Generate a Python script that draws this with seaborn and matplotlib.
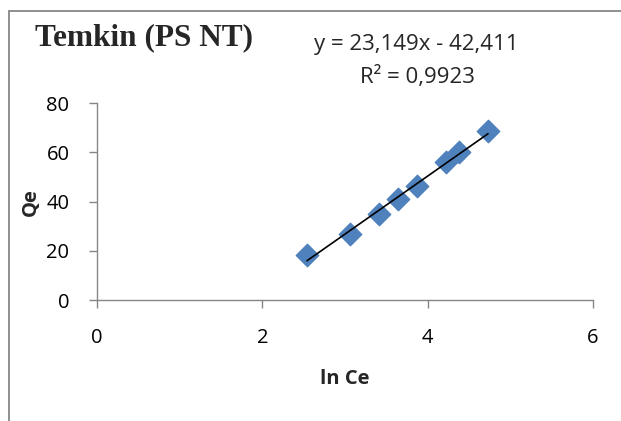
import numpy as np
import pandas as pd
import seaborn as sns
import matplotlib.pyplot as plt
from matplotlib.lines import Line2D

# data
ln_ce = [2.54, 3.06, 3.41, 3.64, 3.87, 4.22, 4.38, 4.73]
qe = [18.5, 26.8, 34.9, 41.2, 46.5, 56.0, 60.0, 68.5]
x_ticks = [0, 2, 4, 6]
y_ticks = [0, 20, 40, 60, 80]
eq_line = "y = 23,149x - 42,411"
r2_line = "R² = 0,9923"

df = pd.DataFrame({"ln Ce": ln_ce, "Qe": qe})

sns.set_theme(style="white")
plt.rcParams["font.family"] = ["Open Sans", "DejaVu Sans"]

fig = plt.figure(figsize=(6.21, 4.21), dpi=100)
ax = fig.add_axes([0.156, 0.287, 0.799, 0.468])

blue = "#4F81BD"
grey = "#868686"

sns.regplot(data=df, x="ln Ce", y="Qe", ci=None, ax=ax, marker="D",
            scatter_kws={"s": 130, "color": blue, "edgecolor": blue,
                         "alpha": 1, "zorder": 2},
            line_kws={"color": "black", "lw": 1.2, "zorder": 3})

ax.set_xlim(0, 6)
ax.set_ylim(0, 80)
ax.set_xticks(x_ticks)
ax.set_yticks(y_ticks)
ax.tick_params(axis="both", labelsize=14.5, length=5.8, width=1, color=grey,
               labelcolor="black", direction="out", bottom=True, left=True, pad=14)
for side in ["top", "right"]:
    ax.spines[side].set_visible(False)
for side in ["left", "bottom"]:
    ax.spines[side].set_color(grey)
    ax.spines[side].set_linewidth(1)

ax.set_xlabel("ln Ce", fontsize=14.5, fontweight="bold", labelpad=15)
ax.set_ylabel("Qe", fontsize=14.5, fontweight="bold", labelpad=4)

fig.text(0.056, 0.893, "Temkin (PS NT)", fontsize=22.5, fontweight="bold",
         family="Liberation Serif", va="baseline", ha="left")
fig.text(0.671, 0.881, eq_line, fontsize=16, ha="center", va="baseline")
fig.text(0.673, 0.803, r2_line, fontsize=16, ha="center", va="baseline")

# chart area border (only top and left edges fall inside the picture)
fig.add_artist(Line2D([0.014, 1.0], [0.974, 0.974], color=grey, lw=1.3,
                      transform=fig.transFigure))
fig.add_artist(Line2D([0.014, 0.014], [0.0, 0.974], color=grey, lw=1.3,
                      transform=fig.transFigure))

fig.savefig("out.png", dpi=100)
